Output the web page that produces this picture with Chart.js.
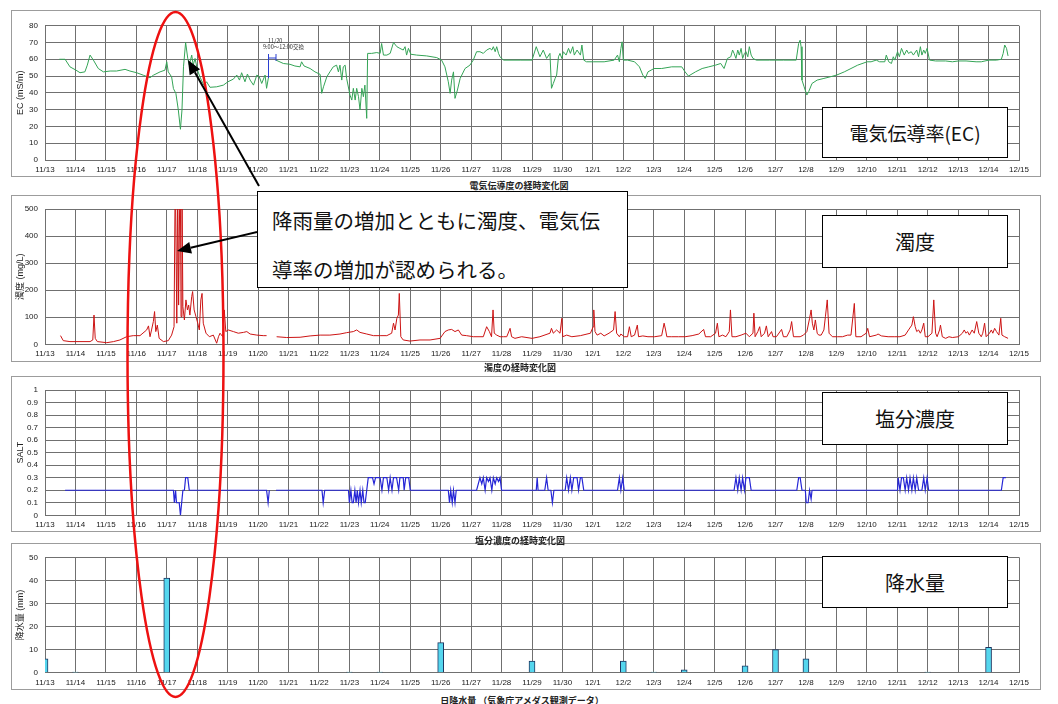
<!DOCTYPE html>
<html lang="ja">
<head>
<meta charset="utf-8">
<title>水質の経時変化</title>
<script src="https://cdn.jsdelivr.net/npm/chart.js@4.4.1/dist/chart.umd.min.js"></script>
<style>
  html, body { margin: 0; padding: 0; background: #fff; }
  #page { position: relative; width: 1058px; height: 704px; overflow: hidden;
          font-family: "Noto Sans CJK JP", "Liberation Sans", sans-serif; }
  .frame { position: absolute; left: 11px; width: 1030px; border: 1px solid #9c9c9c; box-sizing: border-box; }
  canvas.panel { position: absolute; left: 0; }
  .caption { position: absolute; font-size: 9px; font-weight: bold; color: #222;
             transform: translateX(-50%); white-space: nowrap; line-height: 1; }
  .label { position: absolute; left: 822px; width: 186px; border: 1.5px solid #000; background: #fff;
           box-sizing: border-box; display: flex; align-items: center; justify-content: center;
           font-size: 20px; color: #111; z-index: 4; }
  #callout { position: absolute; left: 257px; top: 191px; width: 371px; height: 97px;
             border: 1.5px solid #000; background: #fff; box-sizing: border-box; z-index: 4; }
  #callout div { position: absolute; left: 14px; font-size: 20.5px; line-height: 1; color: #111; white-space: nowrap; }
  .tiny { position: absolute; font-size: 5.5px; line-height: 1; color: #333; white-space: nowrap; }
  #overlay { position: absolute; left: 0; top: 0; z-index: 6; pointer-events: none; }
</style>
</head>
<body>
<div id="page">
  <div class="frame" style="top:10px;height:167px"></div>
  <div class="frame" style="top:195px;height:167px"></div>
  <div class="frame" style="top:376px;height:156px"></div>
  <div class="frame" style="top:543px;height:147px"></div>

  <canvas class="panel" id="ecChart" width="1058" height="167" style="top:10px"></canvas>
  <canvas class="panel" id="turbChart" width="1058" height="167" style="top:195px"></canvas>
  <canvas class="panel" id="saltChart" width="1058" height="156" style="top:376px"></canvas>
  <canvas class="panel" id="rainChart" width="1058" height="147" style="top:543px"></canvas>

  <div class="caption" style="left:519px;top:181px">電気伝導度の経時変化図</div>
  <div class="caption" style="left:520px;top:363px">濁度の経時変化図</div>
  <div class="caption" style="left:520px;top:536px">塩分濃度の経時変化図</div>
  <div class="caption" style="left:522px;top:696px">日降水量 （気象庁アメダス観測データ）</div>

  <div class="tiny" style="left:268px;top:39px">11/20</div>
  <div class="tiny" style="left:263px;top:45px">9:00～12:00交換</div>

  <div class="label" style="top:107px;height:51px;font-size:19px">電気伝導率(EC)</div>
  <div class="label" style="top:215px;height:53px">濁度</div>
  <div class="label" style="top:392px;height:53px">塩分濃度</div>
  <div class="label" style="top:556px;height:52px">降水量</div>

  <div id="callout">
    <div style="top:18px">降雨量の増加とともに濁度、電気伝</div>
    <div style="top:67px">導率の増加が認められる。</div>
  </div>

  <svg id="overlay" width="1058" height="704"></svg>
</div>

<script>
// x axis: days since 11/13 0:00
const dayLabels = ["11/13", "11/14", "11/15", "11/16", "11/17", "11/18", "11/19", "11/20", "11/21",
  "11/22", "11/23", "11/24", "11/25", "11/26", "11/27", "11/28", "11/29", "11/30", "12/1", "12/2",
  "12/3", "12/4", "12/5", "12/6", "12/7", "12/8", "12/9", "12/10", "12/11", "12/12", "12/13", "12/14", "12/15"];

// 電気伝導率 EC (mS/m): [day, value]
const ecSeries = [
  [0.47, 60], [0.66, 60], [0.82, 55.5], [1.02, 53.5], [1.15, 52], [1.31, 52.5], [1.39, 56.5], [1.48, 62.5],
  [1.59, 59.5], [1.75, 54.5], [1.92, 52.5], [2.14, 53], [2.35, 53], [2.63, 54], [2.79, 53], [3.01, 52],
  [3.23, 50.5], [3.45, 49], [3.56, 50.5], [3.78, 52.5], [3.94, 53.5], [4.0, 58.5], [4.05, 52.5], [4.16, 49.5],
  [4.22, 42.5], [4.3, 39.7], [4.38, 29.8], [4.45, 18.3], [4.5, 29.8], [4.55, 55.5], [4.62, 70], [4.69, 60.5],
  [4.74, 56.5], [4.82, 62.5], [4.87, 56.5], [4.93, 60.5], [5.01, 53.5], [5.09, 49.5], [5.22, 44.6], [5.31, 46.6],
  [5.42, 43.3], [5.64, 43.6], [5.86, 44.6], [6.01, 46.6], [6.19, 48.2], [6.3, 50.6], [6.39, 47.6], [6.46, 52],
  [6.57, 46.6], [6.65, 51.2], [6.74, 47.6], [6.85, 44.6], [6.96, 50.6], [7.04, 49.6], [7.12, 45.6], [7.23, 50.6],
  [7.28, 42.7], [7.34, 49], [7.45, null],
  [7.59, 59.5], [7.83, 57.5], [8.05, 57], [8.21, 56], [8.38, 55.5], [8.43, 58.5], [8.51, 56], [8.71, 54.5],
  [8.87, 52.5], [9.04, 51], [9.09, 39.7], [9.15, 43.6], [9.26, 49.6], [9.36, 52.5], [9.47, 55.5], [9.58, 56.5],
  [9.64, 52.5], [9.69, 56.5], [9.75, 47.6], [9.8, 55.5], [9.86, 56.5], [9.91, 48.6], [10.02, 38.7], [10.08, 35.7],
  [10.13, 42.7], [10.19, 35.7], [10.24, 42.7], [10.3, 37.7], [10.35, 29.8], [10.41, 42.7], [10.46, 37.7],
  [10.51, 44.6], [10.57, 24.8], [10.6, 63.5], [10.73, 63.5], [10.9, 64], [11.01, 63.5], [11.06, 69.4],
  [11.12, 62.5], [11.23, 62.5], [11.34, 63.5], [11.45, 70], [11.56, 67.5], [11.66, 66.5], [11.77, 65.5],
  [11.83, 67.5], [11.88, 62.5], [11.94, 66.5], [12.02, 63], [12.21, 62.5], [12.54, 62], [12.87, 61],
  [13.03, 59.5], [13.14, 55.5], [13.25, 46.6], [13.31, 39.7], [13.36, 47.6], [13.42, 52.5], [13.47, 36.7],
  [13.55, 41.7], [13.64, 48.6], [13.8, 54.5], [13.96, 56.5], [14.07, 59.5], [14.18, 64.5], [14.29, 64.5],
  [14.4, 63.5], [14.51, 65.5], [14.62, 66.5], [14.68, 65.5], [14.73, 67.5], [14.79, 64.5], [14.84, 67.5],
  [14.9, 63.5], [14.95, 61.5], [15.06, 59.5], [15.61, 59.5],
  [16.0, 59.5], [16.14, 67.5], [16.26, 61.5], [16.37, 65.5], [16.48, 60.5], [16.59, 63.5], [16.64, 42.7],
  [16.7, 45.6], [16.76, 48.6], [16.81, 50.6], [16.87, 61.5], [16.92, 63.5], [16.98, 60.5], [17.03, 64.5],
  [17.12, 62.5], [17.2, 66.5], [17.26, 63.5], [17.34, 67.5], [17.39, 62.5], [17.48, 65.5], [17.59, 62.5],
  [17.64, 68.5], [17.7, 59.5], [17.79, 58.5], [18.01, 58.5], [18.37, 58.5], [18.7, 59.5], [18.81, 62.5],
  [18.87, 58.5], [18.92, 66.5], [18.96, 70.4], [19.0, 59.5], [19.14, 59.5], [19.37, 58.5], [19.53, 55.5],
  [19.64, 50.6], [19.72, 48.6], [19.81, 52.5], [20.01, 54.5], [20.26, 54.5], [20.59, 55.5], [20.92, 55.5],
  [21.03, 52.5], [21.14, 50], [21.37, 52.5], [21.59, 54.5], [21.81, 55.5], [22.03, 56.5], [22.2, 57.5],
  [22.31, 54.5], [22.42, 60.5], [22.53, 61.5], [22.59, 65.5], [22.64, 63.5], [22.7, 60.5], [22.76, 65.5],
  [22.81, 62.5], [22.87, 66.5], [22.92, 60.5], [22.98, 63.5], [23.03, 64.5], [23.09, 61.5], [23.14, 67.5],
  [23.2, 62.5], [23.26, 60.5], [23.37, 59.5], [23.81, 59.5], [24.26, 59.5], [24.68, 59.5], [24.76, 69.4],
  [24.81, 71.4], [24.84, 67.5], [24.87, 47.6], [24.94, 43.6], [25.03, 38.7], [25.09, 40.7], [25.2, 45.6],
  [25.37, 47.6], [25.59, 48.6], [25.81, 49.6], [26.01, 50.6], [26.26, 52.5], [26.48, 54.5], [26.7, 56.5],
  [27.01, 58.5], [27.14, 58.5], [27.31, 59.5], [27.42, 58.5], [27.59, 58.5], [27.64, 62.5], [27.72, 58.5],
  [27.81, 57.5], [27.87, 61.5], [27.92, 59.5], [28.01, 64.5], [28.07, 61.5], [28.14, 66.5], [28.23, 62.5],
  [28.31, 65.5], [28.37, 63.5], [28.46, 64.5], [28.53, 62.5], [28.64, 65.5], [28.7, 61.5], [28.76, 67.5],
  [28.81, 62.5], [28.87, 65.5], [28.92, 63.5], [28.98, 66.5], [29.06, 59.5], [29.26, 59], [29.59, 59],
  [29.81, 58.5], [30.01, 59], [30.26, 59], [30.59, 58.5], [30.76, 58.5], [31.01, 59.5], [31.26, 59.5],
  [31.42, 60], [31.48, 63.5], [31.53, 68.5], [31.59, 66.5], [31.64, 62]
];

// 濁度 (mg/L): [day, value]; values above 500 run off the top of the plot
const turbiditySeries = [
  [0.51, 32], [0.6, 13.5], [0.82, 10], [1.15, 10], [1.48, 10], [1.57, 16], [1.61, 108], [1.65, 22], [1.72, 10],
  [2.03, 6], [2.25, 10], [2.46, 16], [2.68, 28], [2.9, 32], [3.12, 32], [3.34, 53], [3.4, 68], [3.45, 28],
  [3.5, 53], [3.56, 84], [3.6, 121], [3.64, 47], [3.69, 71], [3.75, 22], [3.89, 10], [4.05, 13.5], [4.16, 34],
  [4.24, 65], [4.28, 650], [4.33, 78], [4.36, 600], [4.39, 145], [4.44, 700], [4.47, 102], [4.5, 600],
  [4.53, 139], [4.58, 90], [4.63, 164], [4.68, 127], [4.72, 145], [4.76, 108], [4.82, 176], [4.85, 195],
  [4.9, 127], [4.96, 102], [5.02, 78], [5.07, 53], [5.12, 164], [5.16, 188], [5.2, 78], [5.29, 41], [5.4, 28],
  [5.53, 34], [5.64, 4], [5.7, 28], [5.75, 41], [5.84, 28], [5.89, 127], [5.94, 47], [6.02, 53], [6.19, 47],
  [6.35, 41], [6.52, 44], [6.63, 47], [6.74, 38], [6.96, 34], [7.17, 32], [7.28, 32], [7.45, null],
  [7.61, 28], [7.94, 25], [8.38, 26], [8.71, 31], [9.04, 34], [9.36, 34], [9.69, 38], [9.91, 43], [10.13, 47],
  [10.24, 53], [10.35, 44], [10.57, 38], [10.79, 32], [11.01, 32], [11.23, 32], [11.39, 41], [11.45, 78],
  [11.5, 53], [11.56, 96], [11.61, 108], [11.64, 188], [11.69, 28], [11.77, 16], [11.99, 12], [12.32, 16],
  [12.65, 16], [12.98, 22], [13.14, 47], [13.25, 53], [13.36, 55], [13.47, 47], [13.58, 53], [13.69, 34],
  [13.85, 32], [14.07, 28], [14.4, 28], [14.51, 65], [14.6, 47], [14.67, 28], [14.72, 127], [14.76, 41],
  [14.84, 34], [14.95, 28], [15.06, 28], [15.17, 28], [15.28, 59], [15.33, 28], [15.44, 22], [15.66, 28],
  [16.0, 22], [16.26, 28], [16.59, 41], [16.64, 59], [16.7, 41], [16.81, 53], [16.92, 41], [16.98, 96],
  [17.01, 28], [17.14, 34], [17.31, 28], [17.59, 32], [17.92, 41], [18.01, 65], [18.03, 127], [18.07, 47],
  [18.14, 34], [18.26, 41], [18.37, 31], [18.53, 41], [18.68, 53], [18.73, 121], [18.78, 41], [18.87, 28],
  [18.92, 38], [19.03, 28], [19.14, 28], [19.2, 65], [19.26, 28], [19.37, 34], [19.46, 71], [19.5, 28],
  [19.64, 31], [19.81, 28], [20.03, 28], [20.26, 32], [20.34, 78], [20.39, 53], [20.43, 28], [20.59, 28],
  [20.81, 28], [21.03, 28], [21.26, 32], [21.48, 38], [21.64, 55], [21.7, 28], [21.87, 28], [22.03, 41],
  [22.09, 78], [22.14, 28], [22.26, 34], [22.37, 28], [22.48, 47], [22.52, 127], [22.57, 28], [22.7, 28],
  [22.87, 34], [23.03, 41], [23.14, 28], [23.26, 41], [23.29, 115], [23.33, 28], [23.42, 47], [23.48, 65],
  [23.53, 28], [23.64, 41], [23.7, 68], [23.76, 28], [23.87, 47], [23.92, 28], [24.03, 28], [24.2, 55],
  [24.26, 28], [24.37, 28], [24.48, 53], [24.53, 84], [24.59, 28], [24.81, 28], [24.92, 34], [25.03, 47],
  [25.12, 96], [25.17, 127], [25.21, 78], [25.26, 53], [25.31, 90], [25.37, 41], [25.42, 34], [25.5, 34],
  [25.59, 53], [25.64, 102], [25.7, 164], [25.76, 41], [25.87, 28], [26.03, 28], [26.2, 28], [26.37, 34],
  [26.48, 34], [26.59, 151], [26.64, 28], [26.81, 28], [26.98, 41], [27.03, 59], [27.09, 28], [27.31, 34],
  [27.37, 38], [27.48, 31], [27.7, 28], [27.92, 28], [28.09, 28], [28.26, 34], [28.37, 53], [28.48, 71],
  [28.53, 102], [28.59, 65], [28.64, 47], [28.7, 53], [28.76, 41], [28.81, 53], [28.87, 78], [28.92, 28],
  [29.01, 28], [29.14, 41], [29.2, 164], [29.26, 41], [29.31, 28], [29.39, 53], [29.42, 71], [29.48, 28],
  [29.59, 22], [29.7, 28], [29.81, 25], [30.01, 28], [30.14, 41], [30.2, 53], [30.26, 41], [30.31, 47],
  [30.37, 34], [30.46, 53], [30.53, 41], [30.61, 84], [30.68, 41], [30.76, 28], [30.81, 41], [30.87, 78],
  [30.92, 28], [31.03, 41], [31.09, 53], [31.14, 41], [31.2, 59], [31.26, 47], [31.34, 34], [31.4, 96],
  [31.44, 34], [31.53, 28], [31.64, 22]
];

// 塩分濃度 SALT: [day, value]
const saltSeries = [
  [0.66, 0.2], [4.22, 0.2], [4.25, 0.1], [4.29, 0.2], [4.32, 0.1], [4.41, 0.1], [4.45, 0], [4.49, 0.1],
  [4.53, 0.2], [4.58, 0.2], [4.62, 0.3], [4.69, 0.3], [4.74, 0.2], [7.28, 0.2], [7.33, 0.1], [7.37, 0.2],
  [7.45, null],
  [7.59, 0.2], [9.1, 0.2], [9.14, 0.1], [9.19, 0.2], [9.97, 0.2], [10.0, 0.1], [10.05, 0.2], [10.09, 0.1],
  [10.13, 0.1], [10.18, 0.2], [10.22, 0.1], [10.26, 0.2], [10.3, 0.1], [10.35, 0.2], [10.39, 0.1], [10.44, 0.2],
  [10.48, 0.1], [10.52, 0.1], [10.57, 0.2], [10.62, 0.3], [10.76, 0.3], [10.81, 0.25], [10.86, 0.3],
  [11.01, 0.3], [11.07, 0.2], [11.12, 0.3], [11.23, 0.3], [11.29, 0.2], [11.34, 0.3], [11.4, 0.2], [11.45, 0.3],
  [11.55, 0.3], [11.62, 0.2], [11.66, 0.3], [11.77, 0.3], [11.8, 0.2], [11.85, 0.3], [11.95, 0.3], [12.0, 0.2],
  [13.25, 0.2], [13.29, 0.1], [13.33, 0.2], [13.38, 0.1], [13.42, 0.2], [13.47, 0.1], [13.51, 0.2],
  [14.18, 0.2], [14.29, 0.3], [14.35, 0.25], [14.4, 0.3], [14.46, 0.2], [14.51, 0.3], [14.57, 0.27],
  [14.62, 0.3], [14.68, 0.2], [14.73, 0.3], [14.79, 0.25], [14.84, 0.3], [14.9, 0.27], [14.95, 0.3], [15.0, 0.2],
  [16.14, 0.2], [16.17, 0.3], [16.2, 0.2], [16.42, 0.2], [16.48, 0.3], [16.53, 0.2], [16.62, 0.2], [16.67, 0.1],
  [16.72, 0.2], [17.09, 0.2], [17.14, 0.3], [17.2, 0.2], [17.26, 0.3], [17.31, 0.2], [17.37, 0.3], [17.48, 0.3],
  [17.53, 0.2], [17.59, 0.3], [17.64, 0.3], [17.7, 0.2], [18.81, 0.2], [18.87, 0.3], [18.92, 0.2], [18.98, 0.3],
  [19.03, 0.2], [22.64, 0.2], [22.7, 0.3], [22.76, 0.2], [22.81, 0.3], [22.87, 0.2], [22.92, 0.3], [22.98, 0.2],
  [23.03, 0.3], [23.14, 0.3], [23.2, 0.2], [24.7, 0.2], [24.76, 0.3], [24.81, 0.3], [24.87, 0.2], [24.98, 0.2],
  [25.01, 0.1], [25.07, 0.1], [25.12, 0.2], [25.17, 0.13], [25.2, 0.2], [28.01, 0.2], [28.03, 0.3], [28.09, 0.2],
  [28.14, 0.3], [28.2, 0.3], [28.26, 0.2], [28.31, 0.3], [28.37, 0.2], [28.42, 0.3], [28.48, 0.2], [28.53, 0.3],
  [28.59, 0.2], [28.64, 0.3], [28.7, 0.2], [28.81, 0.2], [28.87, 0.3], [28.92, 0.2], [28.98, 0.3], [29.03, 0.2],
  [31.42, 0.2], [31.48, 0.3], [31.57, 0.3]
];

// 日降水量 (mm)
const rainDays = [0, 1, 4, 10, 11, 13, 16, 19, 20, 21, 23, 24, 25, 29, 31];
const rainMm = [6, 0.3, 41, 0.3, 0.3, 13, 5, 5, 0.3, 1.2, 3, 10, 6, 0.3, 11];

const GRID = "#707070";
const TICK_FONT = { family: "Liberation Sans", size: 8 };

function toPoints(series) {
  return series.map(function (p) { return { x: p[0], y: p[1] }; });
}

function buildPanel(id, type, datasets, padTop, xHeight, yMax, yStep, yTitle) {
  return new Chart(document.getElementById(id), {
    type: type,
    data: { datasets: datasets },
    options: {
      responsive: false,
      animation: false,
      layout: { padding: { left: 0, right: 39, top: padTop, bottom: 0 } },
      plugins: { legend: { display: false }, tooltip: { enabled: false } },
      scales: {
        x: {
          type: "linear",
          min: 0,
          max: 32,
          offset: false,
          grid: { color: GRID, offset: false, drawTicks: false },
          border: { color: GRID },
          ticks: {
            stepSize: 1,
            autoSkip: false,
            maxRotation: 0,
            padding: 5,
            color: "#1a1a1a",
            font: TICK_FONT,
            callback: function (value) { return dayLabels[Math.round(value)]; },
          },
          afterFit: function (scale) { scale.height = xHeight; },
        },
        y: {
          min: 0,
          max: yMax,
          grid: { color: GRID, drawTicks: false },
          border: { color: GRID },
          ticks: {
            stepSize: yStep,
            autoSkip: false,
            padding: 7,
            color: "#1a1a1a",
            font: TICK_FONT,
            callback: function (value) { return String(Math.round(value * 10) / 10); },
          },
          title: {
            display: true,
            text: yTitle,
            color: "#222",
            padding: { top: 15, bottom: 0 },
            font: { family: "Liberation Sans, Noto Sans CJK JP", size: 9 },
          },
          afterFit: function (scale) { scale.width = 45; },
        },
      },
    },
  });
}

const lineStyle = { pointRadius: 0, borderWidth: 1, tension: 0, spanGaps: false, fill: false };

buildPanel("ecChart", "line",
  [Object.assign({ data: toPoints(ecSeries), borderColor: "#34a456" }, lineStyle)],
  15.7, 17, 80, 10, "EC (mS/m)");

buildPanel("turbChart", "line",
  [Object.assign({ data: toPoints(turbiditySeries), borderColor: "#cc1414" }, lineStyle)],
  14, 17.7, 500, 100, "濁度 (mg/L)");

buildPanel("saltChart", "line",
  [Object.assign({ data: toPoints(saltSeries), borderColor: "#2626d6" }, lineStyle, { borderWidth: 1.2 })],
  14, 16.7, 1, 0.1, "SALT");

buildPanel("rainChart", "bar",
  [{
    data: rainDays.map(function (d, i) { return { x: d, y: rainMm[i] }; }),
    backgroundColor: "#55d6ee",
    borderColor: "#1d3560",
    borderWidth: 1,
    barThickness: 6,
  }],
  14.3, 17.3, 50, 10, "降水量 (mm)");

// overlay: red ellipse, arrows and the exchange marker
(function () {
  const svg = document.getElementById("overlay");
  let html = '<ellipse cx="175.5" cy="354.5" rx="48" ry="342.5" fill="none" stroke="#ee1111" stroke-width="2.5"/>';

  function arrow(x1, y1, x2, y2) {
    const dx = x2 - x1, dy = y2 - y1;
    const len = Math.sqrt(dx * dx + dy * dy);
    const ux = dx / len, uy = dy / len;
    const bx = x2 - ux * 14, by = y2 - uy * 14;
    const px = -uy * 6, py = ux * 6;
    return '<line x1="' + x1 + '" y1="' + y1 + '" x2="' + bx + '" y2="' + by + '" stroke="#000" stroke-width="2"/>' +
      '<polygon points="' + x2 + ',' + y2 + ' ' + (bx + px) + ',' + (by + py) + ' ' + (bx - px) + ',' + (by - py) + '" fill="#000"/>';
  }

  html += arrow(259, 186, 188, 60);
  html += arrow(257, 232, 177, 251);

  // 11/20 exchange bracket
  html += '<g stroke="#2a3fd0" stroke-width="1" fill="none">' +
    '<line x1="268.5" y1="54" x2="268.5" y2="78"/>' +
    '<line x1="276" y1="54" x2="276" y2="61"/>' +
    '<line x1="268.5" y1="58" x2="276" y2="58"/></g>';

  svg.innerHTML = html;
})();
</script>
</body>
</html>
